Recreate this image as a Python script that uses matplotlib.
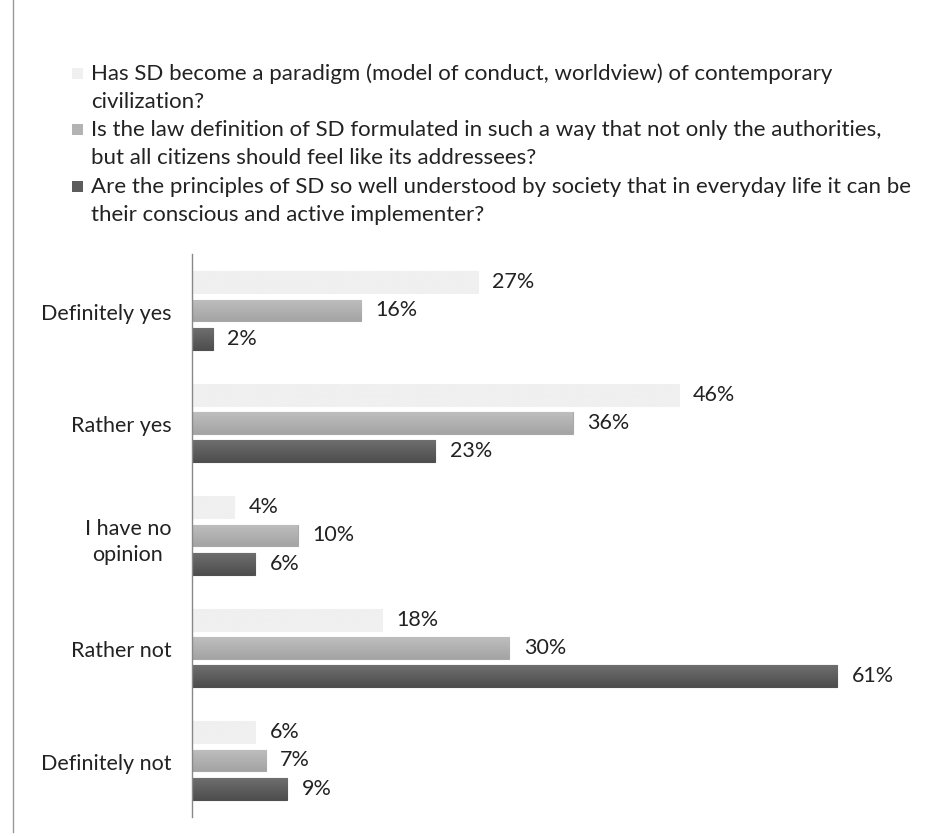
import numpy as np
import matplotlib
matplotlib.use("Agg")
import matplotlib.pyplot as plt
from matplotlib.lines import Line2D
from matplotlib.patches import Rectangle
from matplotlib.colors import LinearSegmentedColormap

# ---------------- data ----------------
categories = ["Definitely yes", "Rather yes", "I have no\nopinion", "Rather not", "Definitely not"]

series_names = [
    "Has SD become a paradigm (model of conduct, worldview) of contemporary\ncivilization?",
    "Is the law definition of SD formulated in such a way that not only the authorities,\nbut all citizens should feel like its addressees?",
    "Are the principles of SD so well understood by society that in everyday life it can be\ntheir conscious and active implementer?",
]

paradigm = [27, 46, 4, 18, 6]
law_definition = [16, 36, 10, 30, 7]
principles = [2, 23, 6, 61, 9]

# (top colour, bottom colour) of the bar gradient
grad = [("#f0f0f0", "#f0f0f0"), ("#bebebe", "#a4a4a4"), ("#6e6e6e", "#4e4e4e")]
edge = ["#f0f0f0", "#a8a8a8", "#505050"]
legend_colors = ["#f0f0f0", "#b3b3b3", "#5c5c5c"]

plt.rcParams["font.family"] = ["Lato", "DejaVu Sans"]
FS = 15.5
FS_LEG = 16
TXT = "#222222"

fig = plt.figure(figsize=(9.48, 8.37), dpi=100)
ax = fig.add_axes([0.2025, 0.023, 0.72, 0.672])

y = np.arange(len(categories))
offsets = [-0.25, 0.0, 0.25]
height = 0.195
all_series = [paradigm, law_definition, principles]

XMAX = 64.5
for vals, off, (ctop, cbot), ec in zip(all_series, offsets, grad, edge):
    cmap = LinearSegmentedColormap.from_list("g", [ctop, cbot])
    g = np.linspace(0, 1, 64).reshape(-1, 1)
    bars = ax.barh(y + off, vals, height=height, color=cbot, edgecolor=ec, linewidth=0.8)
    for b, v in zip(bars, vals):
        y0 = b.get_y()
        im = ax.imshow(g, cmap=cmap, aspect="auto", origin="upper",
                       extent=(0, v, y0 + height, y0), zorder=2.5)
        im.set_clip_path(b)
        ax.text(v + 1.35, y0 + height / 2 - 0.01, f"{v}%",
                va="center", ha="left", fontsize=FS, color=TXT)

ax.set_aspect("auto")
ax.set_xlim(0, XMAX)
ax.set_ylim(4.5, -0.5)
ax.set_yticks(y)
ax.set_yticklabels(categories, fontsize=FS, color=TXT, ha="right",
                   multialignment="center", linespacing=1.4)
ax.tick_params(axis="y", length=0, pad=15)
ax.set_xticks([])
for s in ["top", "right", "bottom"]:
    ax.spines[s].set_visible(False)
ax.spines["left"].set_color("#888888")
ax.spines["left"].set_linewidth(1.0)
ax.spines["left"].set_zorder(3)

# legend, drawn by hand so the square sits on the first text line
W, H = 948, 837
legend_y = [74, 130, 187]
LINE_STEP = 28
for name, c, ly in zip(series_names, legend_colors, legend_y):
    fig.add_artist(Rectangle((72 / W, 1 - (ly + 6) / H), 11 / W, 11 / H,
                             transform=fig.transFigure, facecolor=c, edgecolor="none"))
    for k, line in enumerate(name.split("\n")):
        fig.text(91 / W, 1 - (ly + k * LINE_STEP) / H, line, ha="left", va="center",
                 fontsize=FS_LEG, color=TXT)

# left border line
fig.add_artist(Line2D([0.0137, 0.0137], [0.005, 1.0], color="#999999", linewidth=1.0))

fig.savefig("out.png", dpi=100)
